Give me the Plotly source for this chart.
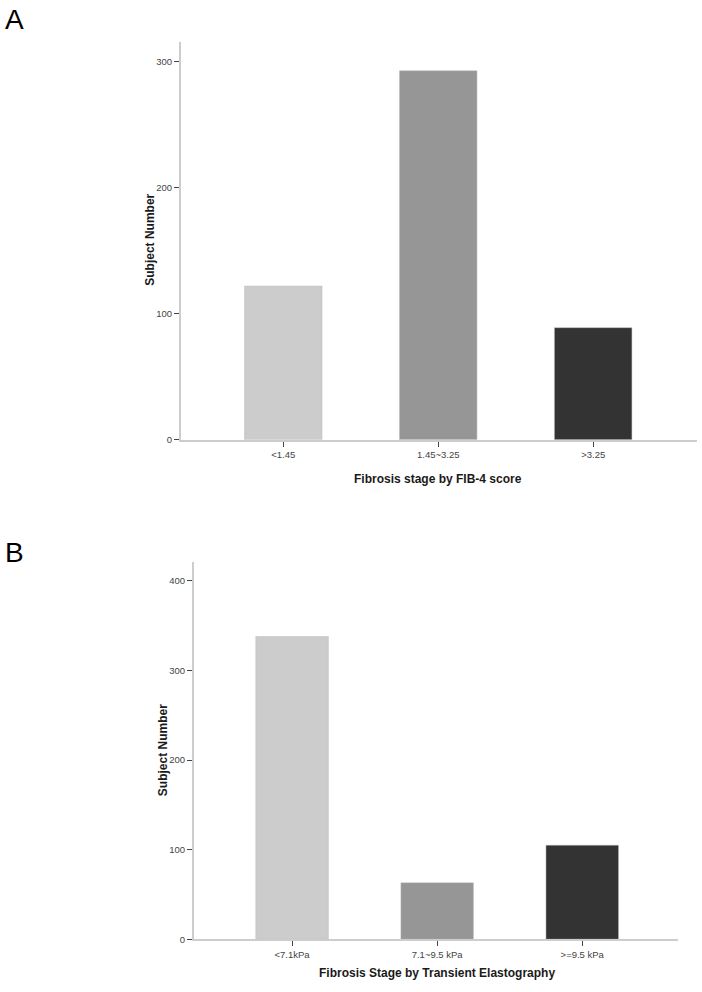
import plotly.graph_objects as go

W, H = 702, 992

# Data
cats_a = ["<1.45", "1.45~3.25", ">3.25"]
vals_a = [122, 293, 89]
cats_b = ["<7.1kPa", "7.1~9.5 kPa", ">=9.5 kPa"]
vals_b = [338, 63, 105]
bar_colors = ["#cccccc", "#969696", "#333333"]
yticks_a = [0, 100, 200, 300]
yticks_b = [0, 100, 200, 300, 400]

def fx(px):
    return px / W

def fy(py):
    return 1 - py / H

fig = go.Figure()
fig.add_trace(go.Bar(x=cats_a, y=vals_a, marker=dict(color=bar_colors, line=dict(color="#bbbbbb", width=0.5)),
                     width=0.5, xaxis="x", yaxis="y", showlegend=False))
fig.add_trace(go.Bar(x=cats_b, y=vals_b, marker=dict(color=bar_colors, line=dict(color="#bbbbbb", width=0.5)),
                     width=0.5, xaxis="x2", yaxis="y2", showlegend=False))

tickfont = dict(family="Liberation Sans, Arial, sans-serif", size=9.5, color="#444444")
axcommon = dict(showline=True, linecolor="#cdcdcd", linewidth=2, showgrid=False, zeroline=False,
                ticks="outside", tickwidth=1, tickcolor="#444444", tickfont=tickfont)

fig.update_layout(
    width=W, height=H,
    margin=dict(l=0, r=0, t=0, b=0),
    plot_bgcolor="white", paper_bgcolor="white",
    xaxis=dict(domain=[fx(181), fx(697)], anchor="y", range=[-0.66, 2.67], ticklen=5, **axcommon),
    yaxis=dict(domain=[fy(442), fy(42)], anchor="x", range=[0, 316], tickvals=yticks_a, ticklen=5, **axcommon),
    xaxis2=dict(domain=[fx(194), fx(678)], anchor="y2", range=[-0.676, 2.66], ticklen=5, **axcommon),
    yaxis2=dict(domain=[fy(944), fy(565)], anchor="x2", range=[0, 421], tickvals=yticks_b, ticklen=5, **axcommon),
)

titlefont = dict(family="Liberation Sans, Arial, sans-serif", size=12, color="#1a1a1a")
ann = [
    dict(text="<b>Fibrosis stage by FIB-4 score</b>", x=fx(438), y=fy(481), xref="paper", yref="paper",
         showarrow=False, font=titlefont, xanchor="center", yanchor="middle"),
    dict(text="<b>Subject Number</b>", x=fx(150), y=fy(241), xref="paper", yref="paper",
         showarrow=False, font=titlefont, xanchor="center", yanchor="middle", textangle=-90),
    dict(text="<b>Fibrosis Stage by Transient Elastography</b>", x=fx(437), y=fy(978), xref="paper", yref="paper",
         showarrow=False, font=titlefont, xanchor="center", yanchor="middle"),
    dict(text="<b>Subject Number</b>", x=fx(163), y=fy(754), xref="paper", yref="paper",
         showarrow=False, font=titlefont, xanchor="center", yanchor="middle", textangle=-90),
    dict(text="A", x=fx(3), y=fy(20), xref="paper", yref="paper", showarrow=False,
         font=dict(family="Liberation Sans, Arial, sans-serif", size=28, color="black"), xanchor="left", yanchor="middle"),
    dict(text="B", x=fx(3), y=fy(555), xref="paper", yref="paper", showarrow=False,
         font=dict(family="Liberation Sans, Arial, sans-serif", size=28, color="black"), xanchor="left", yanchor="middle"),
]
fig.update_layout(annotations=ann)

fig.write_html("out.html", config={"displayModeBar": False},
               post_script="document.body.style.margin='0';")
